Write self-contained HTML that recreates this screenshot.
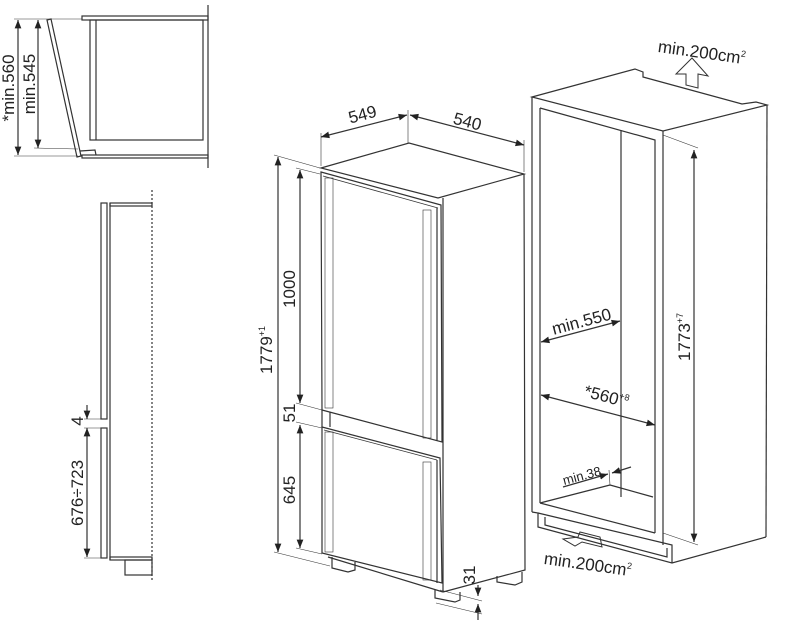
<!DOCTYPE html>
<html><head><meta charset="utf-8"><style>
html,body{margin:0;padding:0;background:#fff;}
svg{display:block;}
text{font-family:"Liberation Sans",sans-serif;fill:#222;}
</style></head><body>
<svg width="800" height="628" viewBox="0 0 800 628" xmlns="http://www.w3.org/2000/svg">
<defs>
<marker id="a" viewBox="0 0 10 10" refX="10" refY="5" markerWidth="7" markerHeight="7" orient="auto-start-reverse"><path d="M0,1 L10,5 L0,9 z" fill="#222"/></marker>
</defs>
<g fill="none" stroke="#333" stroke-width="1.2">
<line x1="208" y1="5" x2="208" y2="168"/>
<rect x="82" y="16" width="126" height="4"/>
<rect x="90" y="20" width="113" height="120"/>
<line x1="96" y1="20" x2="96" y2="140"/>
<rect x="82" y="155" width="126" height="3"/>
<path d="M80,151 L95,150 L96,155"/>
<path d="M47,20 L77,157 L81,156 L51,19 z"/>
<line x1="18" y1="20" x2="18" y2="155" marker-start="url(#a)" marker-end="url(#a)"/>
<line x1="38" y1="20" x2="38" y2="148" marker-start="url(#a)" marker-end="url(#a)"/>
<line x1="14" y1="19" x2="82" y2="19" stroke-width="0.6"/>
<line x1="14" y1="156" x2="78" y2="156" stroke-width="0.6"/>
<line x1="34" y1="148" x2="78" y2="149" stroke-width="0.6"/>

<rect x="101" y="203" width="6" height="216"/>
<rect x="101" y="428" width="6" height="130"/>
<line x1="110" y1="203" x2="110" y2="560"/>
<rect x="110" y="203" width="42" height="3"/>
<rect x="110" y="557" width="42" height="3"/>
<rect x="125" y="560" width="27" height="15"/>
<line x1="152" y1="190" x2="152" y2="580" stroke-dasharray="2,2"/>
<line x1="87" y1="405" x2="87" y2="419" marker-end="url(#a)"/>
<line x1="87" y1="428" x2="87" y2="557" marker-start="url(#a)" marker-end="url(#a)"/>
<line x1="84" y1="419" x2="101" y2="419" stroke-width="0.6"/>
<line x1="84" y1="428" x2="101" y2="428" stroke-width="0.6"/>
<line x1="84" y1="558" x2="101" y2="558" stroke-width="0.6"/>

<path d="M321,168 L409,143 L524,174 L438,198 z"/>
<path d="M524,174 L525,570 L443,592"/>
<line x1="443" y1="198" x2="443" y2="592"/>
<path d="M328,557 L443,592"/>
<path d="M321,172 L441,205 L442,442 L322,410 z"/>
<path d="M323,176 L438,208" stroke-width="0.8"/>
<line x1="437" y1="208" x2="437" y2="441"/>
<rect x="325" y="178" width="8" height="230" stroke-width="0.6"/>
<rect x="423" y="210" width="8" height="228" stroke-width="0.6"/>
<line x1="322" y1="410" x2="322" y2="427"/>
<line x1="330" y1="412" x2="330" y2="427"/>
<path d="M322,427 L440,458 L442,583 L322,553 z"/>
<path d="M324,430 L437,460" stroke-width="0.8"/>
<line x1="437" y1="460" x2="437" y2="583"/>
<rect x="325" y="432" width="8" height="120" stroke-width="0.6"/>
<rect x="423" y="462" width="8" height="118" stroke-width="0.6"/>
<path d="M332,557 L332,568 L348,572 L355,570 L355,562"/>
<path d="M435,590 L435,598 L455,602 L460,600 L460,592"/>
<path d="M497,576 L497,582 L515,585 L522,582 L522,572"/>
<line x1="321" y1="137" x2="407" y2="115" marker-start="url(#a)" marker-end="url(#a)"/>
<line x1="410" y1="115" x2="524" y2="145" marker-start="url(#a)" marker-end="url(#a)"/>
<line x1="321" y1="133" x2="321" y2="166" stroke-width="0.6"/>
<line x1="408" y1="110" x2="408" y2="143" stroke-width="0.6"/>
<line x1="524" y1="140" x2="524" y2="172" stroke-width="0.6"/>
<line x1="278" y1="157" x2="278" y2="552" marker-start="url(#a)" marker-end="url(#a)"/>
<line x1="300" y1="170" x2="300" y2="403" marker-start="url(#a)" marker-end="url(#a)"/>
<line x1="300" y1="425" x2="300" y2="548" marker-start="url(#a)" marker-end="url(#a)"/>
<line x1="274" y1="155" x2="320" y2="168" stroke-width="0.6"/>
<line x1="296" y1="168" x2="320" y2="174" stroke-width="0.6"/>
<line x1="296" y1="403" x2="322" y2="410" stroke-width="0.6"/>
<line x1="296" y1="422" x2="322" y2="428" stroke-width="0.6"/>
<line x1="274" y1="552" x2="330" y2="566" stroke-width="0.6"/>
<line x1="296" y1="548" x2="322" y2="554" stroke-width="0.6"/>
<line x1="478" y1="585" x2="478" y2="596" marker-end="url(#a)"/>
<line x1="478" y1="620" x2="478" y2="604" marker-end="url(#a)"/>
<line x1="440" y1="590" x2="482" y2="601" stroke-width="0.6"/>
<line x1="436" y1="603" x2="482" y2="614" stroke-width="0.6"/>

<path d="M532,97 L635,69 L643,72 L643,77 L742,104 L756,102 L767,105 L663,131 z"/>
<line x1="532" y1="97" x2="532" y2="512"/>
<line x1="767" y1="105" x2="766" y2="537"/>
<line x1="663" y1="131" x2="663" y2="545"/>
<path d="M540,108 L655,140 L655,533"/>
<line x1="540" y1="108" x2="540" y2="503"/>
<line x1="621" y1="130" x2="621" y2="497"/>
<path d="M540,503 L655,533"/>
<path d="M610,485 L653,497"/>
<line x1="610" y1="485" x2="540" y2="503"/>
<path d="M532,512 L538,513 L538,527 L672,563 L766,537"/>
<path d="M538,513 L672,545 L672,563"/>
<path d="M545,517 L545,525 L667,557 L667,548"/>
<path d="M563,539 L578,537 L580,532 L600,537 L602,547 L582,542 L575,546 z" stroke-width="1"/>
<path d="M686,85 L686,74 L676,74 L692,58 L708,76 L698,74 L698,88 z" stroke-width="1"/>
<line x1="694" y1="150" x2="694" y2="542" marker-start="url(#a)" marker-end="url(#a)"/>
<line x1="663" y1="135" x2="698" y2="148" stroke-width="0.6"/>
<line x1="663" y1="533" x2="698" y2="545" stroke-width="0.6"/>
<line x1="541" y1="342" x2="620" y2="321" marker-start="url(#a)" marker-end="url(#a)"/>
<line x1="541" y1="395" x2="655" y2="425" marker-start="url(#a)" marker-end="url(#a)"/>
<line x1="563" y1="487" x2="608" y2="474" marker-end="url(#a)"/>
<line x1="631" y1="467" x2="612" y2="473" marker-end="url(#a)"/>
<line x1="609" y1="470" x2="610" y2="485" stroke-width="0.6"/>
</g>
<g font-size="17">
<text transform="translate(14,88) rotate(-90)" text-anchor="middle">*min.560</text>
<text transform="translate(35,84) rotate(-90)" text-anchor="middle">min.545</text>
<text transform="translate(83,421) rotate(-90)" text-anchor="middle">4</text>
<text transform="translate(83,493) rotate(-90)" text-anchor="middle">676÷723</text>
<text transform="translate(364,120) rotate(-15)" text-anchor="middle">549</text>
<text transform="translate(466,127) rotate(15)" text-anchor="middle">540</text>
<text transform="translate(272,350) rotate(-90)" text-anchor="middle">1779<tspan font-size="9" dy="-7">+1</tspan></text>
<text transform="translate(295,289) rotate(-90)" text-anchor="middle">1000</text>
<text transform="translate(295,413) rotate(-90)" text-anchor="middle">51</text>
<text transform="translate(295,490) rotate(-90)" text-anchor="middle">645</text>
<text transform="translate(475,575) rotate(-90)" text-anchor="middle">31</text>
<text transform="translate(701,58) rotate(8)" text-anchor="middle">min.200cm<tspan font-size="9" dy="-7">2</tspan></text>
<text transform="translate(587,570) rotate(8)" text-anchor="middle">min.200cm<tspan font-size="9" dy="-7">2</tspan></text>
<text transform="translate(690,337) rotate(-90)" text-anchor="middle">1773<tspan font-size="9" dy="-7">+7</tspan></text>
<text transform="translate(583,327) rotate(-15)" text-anchor="middle">min.550</text>
<text transform="translate(605,402) rotate(15)" text-anchor="middle">*560<tspan font-size="9" dy="-7">+8</tspan></text>
<text transform="translate(583,480) rotate(-15)" text-anchor="middle" font-size="13">min.38</text>
</g>
</svg>
</body></html>
